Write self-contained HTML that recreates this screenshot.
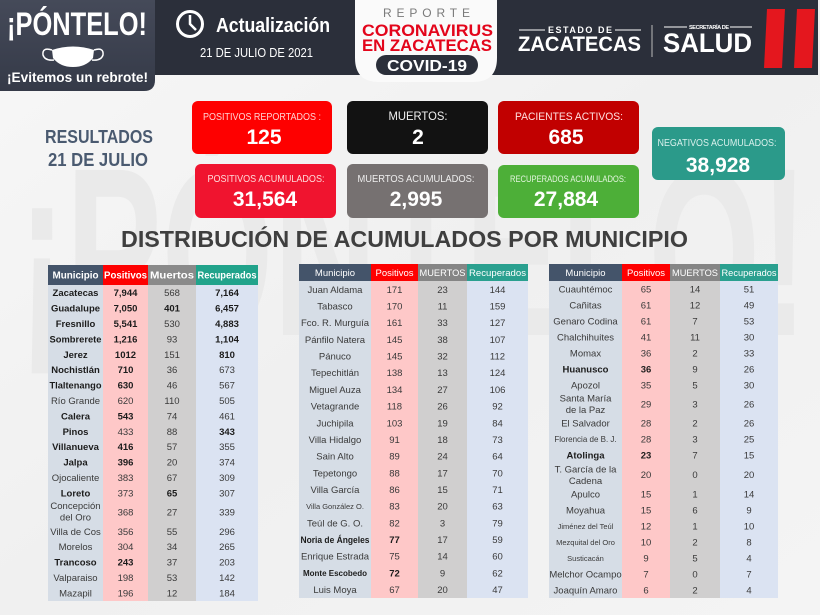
<!DOCTYPE html>
<html><head><meta charset="utf-8"><style>
html,body{margin:0;padding:0;background:#f2f2f2;}
svg{display:block;}
text{font-family:"Liberation Sans",Arial,sans-serif;}
</style></head><body>
<svg width="820" height="615" viewBox="0 0 820 615" xmlns="http://www.w3.org/2000/svg">
<defs>
<linearGradient id="bg" x1="0" y1="0" x2="1" y2="1">
<stop offset="0" stop-color="#f7f7f7"/><stop offset="0.5" stop-color="#f0f0f0"/><stop offset="1" stop-color="#f4f4f4"/>
</linearGradient>
<linearGradient id="lb" x1="0" y1="0" x2="0" y2="1">
<stop offset="0" stop-color="#454a59"/><stop offset="1" stop-color="#353a48"/>
</linearGradient>
</defs>
<rect width="820" height="615" fill="url(#bg)"/>
<!-- watermark -->
<text x="18" y="335" font-size="240" font-weight="bold" fill="#eaeaea" textLength="790" lengthAdjust="spacingAndGlyphs">¡PÓNTELO!</text>

<!-- header -->
<rect x="150" y="0" width="668" height="75" fill="#2b2f3a"/>
<path d="M0,0 H155 V80 Q155,91 144,91 H0 Z" fill="url(#lb)"/>
<text x="7" y="35" font-size="32" font-weight="bold" fill="#fff" textLength="140" lengthAdjust="spacingAndGlyphs">¡PÓNTELO!</text>
<path d="M52,50 Q73,43 94,50 L93,58 Q86,67 73,67 Q60,67 53,58 Z" fill="#fff"/>
<path d="M52,50 Q42,47 43,55 Q45,61 54,60" fill="none" stroke="#fff" stroke-width="1.5"/>
<path d="M94,50 Q104,47 103,55 Q101,61 92,60" fill="none" stroke="#fff" stroke-width="1.5"/>
<text x="7" y="82" font-size="14" font-weight="bold" fill="#fff" textLength="141" lengthAdjust="spacingAndGlyphs">¡Evitemos un rebrote!</text>

<circle cx="190" cy="24" r="12.5" fill="none" stroke="#fff" stroke-width="3"/>
<path d="M190,15 V24 L196,30" fill="none" stroke="#fff" stroke-width="2.5"/>
<text x="216" y="32" font-size="20" font-weight="bold" fill="#fff" textLength="114" lengthAdjust="spacingAndGlyphs">Actualización</text>
<text x="200" y="57" font-size="13" fill="#fff" textLength="113" lengthAdjust="spacingAndGlyphs">21 DE JULIO DE 2021</text>

<path d="M355,0 H497 V58 Q497,82 473,82 H379 Q355,82 355,58 Z" fill="#fafafa"/>
<text x="383" y="17" font-size="12" fill="#7a7a7a" textLength="87" lengthAdjust="spacing">REPORTE</text>
<text x="362" y="36" font-size="17" font-weight="bold" fill="#e3051b" textLength="131" lengthAdjust="spacingAndGlyphs">CORONAVIRUS</text>
<text x="362" y="51" font-size="17" font-weight="bold" fill="#e3051b" textLength="130" lengthAdjust="spacingAndGlyphs">EN ZACATECAS</text>
<rect x="376" y="55" width="102" height="20" rx="10" fill="#2b2f3a"/>
<text x="427" y="71" font-size="16" font-weight="bold" fill="#fff" text-anchor="middle" textLength="80" lengthAdjust="spacingAndGlyphs">COVID-19</text>

<line x1="519" y1="30" x2="545" y2="30" stroke="#fff" stroke-width="1"/>
<line x1="615" y1="30" x2="641" y2="30" stroke="#fff" stroke-width="1"/>
<text x="548" y="33" font-size="9" font-weight="bold" fill="#fff" textLength="64" lengthAdjust="spacing">ESTADO DE</text>
<text x="518" y="51" font-size="21" font-weight="bold" fill="#fff" textLength="123" lengthAdjust="spacingAndGlyphs">ZACATECAS</text>
<line x1="652" y1="25" x2="652" y2="57" stroke="#bbb" stroke-width="1"/>
<line x1="664" y1="27" x2="687" y2="27" stroke="#fff" stroke-width="1"/>
<line x1="730" y1="27" x2="752" y2="27" stroke="#fff" stroke-width="1"/>
<text x="689" y="29" font-size="5.5" font-weight="bold" fill="#fff" textLength="40" lengthAdjust="spacing">SECRETARÍA DE</text>
<text x="663" y="52" font-size="27" font-weight="bold" fill="#fff" textLength="89" lengthAdjust="spacingAndGlyphs">SALUD</text>
<polygon points="767,9 785,9 782,68 764,68" fill="#e4171e"/>
<polygon points="797,9 815,9 812,68 794,68" fill="#e4171e"/>

<!-- results -->
<text x="99" y="143" font-size="18" font-weight="bold" fill="#4a5a70" text-anchor="middle" textLength="108" lengthAdjust="spacingAndGlyphs">RESULTADOS</text>
<text x="98" y="166" font-size="18" font-weight="bold" fill="#4a5a70" text-anchor="middle" textLength="100" lengthAdjust="spacingAndGlyphs">21 DE JULIO</text>

<rect x="192" y="101" width="140" height="53" rx="6" fill="#fe0000"/>
<text x="262" y="120" font-size="10" fill="#ffd2d2" text-anchor="middle" textLength="118" lengthAdjust="spacingAndGlyphs">POSITIVOS REPORTADOS :</text>
<text x="264" y="144" font-size="21" font-weight="bold" fill="#fff" text-anchor="middle">125</text>

<rect x="347" y="101" width="141" height="53" rx="6" fill="#121212"/>
<text x="418" y="120" font-size="12" fill="#f0f0f0" text-anchor="middle" textLength="59" lengthAdjust="spacingAndGlyphs">MUERTOS:</text>
<text x="418" y="144" font-size="21" font-weight="bold" fill="#fff" text-anchor="middle">2</text>

<rect x="498" y="101" width="141" height="53" rx="6" fill="#c10000"/>
<text x="569" y="120" font-size="11" fill="#ffe0e0" text-anchor="middle" textLength="108" lengthAdjust="spacingAndGlyphs">PACIENTES ACTIVOS:</text>
<text x="566" y="144" font-size="21" font-weight="bold" fill="#fff" text-anchor="middle">685</text>

<rect x="195" y="164" width="141" height="54" rx="6" fill="#f0142f"/>
<text x="266" y="182" font-size="10" fill="#ffdada" text-anchor="middle" textLength="117" lengthAdjust="spacingAndGlyphs">POSITIVOS ACUMULADOS:</text>
<text x="265" y="206" font-size="21" font-weight="bold" fill="#fff" text-anchor="middle">31,564</text>

<rect x="347" y="164" width="141" height="54" rx="6" fill="#767171"/>
<text x="416" y="182" font-size="10" fill="#eeeeee" text-anchor="middle" textLength="117" lengthAdjust="spacingAndGlyphs">MUERTOS  ACUMULADOS:</text>
<text x="416" y="206" font-size="21" font-weight="bold" fill="#fff" text-anchor="middle">2,995</text>

<rect x="498" y="165" width="141" height="53" rx="6" fill="#4daf38"/>
<text x="568" y="182" font-size="9" fill="#e4f5df" text-anchor="middle" textLength="116" lengthAdjust="spacingAndGlyphs">RECUPERADOS ACUMULADOS:</text>
<text x="566" y="206" font-size="21" font-weight="bold" fill="#fff" text-anchor="middle">27,884</text>

<rect x="652" y="127" width="133" height="53" rx="6" fill="#2b9a8a"/>
<text x="717" y="146" font-size="10" fill="#d8f0ec" text-anchor="middle" textLength="119" lengthAdjust="spacingAndGlyphs">NEGATIVOS ACUMULADOS:</text>
<text x="718" y="172" font-size="21" font-weight="bold" fill="#fff" text-anchor="middle">38,928</text>

<text x="121" y="247" font-size="23" font-weight="bold" fill="#3f3f3f" textLength="567" lengthAdjust="spacingAndGlyphs">DISTRIBUCIÓN DE ACUMULADOS POR MUNICIPIO</text>

<!-- LEFT TABLE -->
<rect x="48" y="265" width="55" height="20" fill="#44546a"/>
<rect x="103" y="265" width="45" height="20" fill="#fe0000"/>
<rect x="148" y="265" width="48" height="20" fill="#8a8a8a"/>
<rect x="196" y="265" width="62" height="20" fill="#21a38b"/>
<rect x="48" y="285" width="55" height="316" fill="#d6dde6"/>
<rect x="103" y="285" width="45" height="316" fill="#fec8c8"/>
<rect x="148" y="285" width="48" height="316" fill="#d0cfcf"/>
<rect x="196" y="285" width="62" height="316" fill="#dbe3f2"/>
<g font-size="10" font-weight="bold" fill="#fff" text-anchor="middle">
<text x="75.5" y="278.5" textLength="46" lengthAdjust="spacingAndGlyphs">Municipio</text>
<text x="125.5" y="278.5" textLength="43" lengthAdjust="spacingAndGlyphs">Positivos</text>
<text x="172" y="278.5" textLength="44" lengthAdjust="spacingAndGlyphs">Muertos</text>
<text x="227" y="278.5" textLength="59" lengthAdjust="spacingAndGlyphs">Recuperados</text>
</g>
<g font-size="9.5" fill="#3a3a3a" text-anchor="middle">
<g font-weight="bold" fill="#1c1c1c">
<text x="75.5" y="296.2">Zacatecas</text><text x="125.5" y="296.2">7,944</text><text x="227" y="296.2">7,164</text>
<text x="75.5" y="311.6">Guadalupe</text><text x="125.5" y="311.6">7,050</text><text x="172" y="311.6">401</text><text x="227" y="311.6">6,457</text>
<text x="75.5" y="327">Fresnillo</text><text x="125.5" y="327">5,541</text><text x="227" y="327">4,883</text>
<text x="75.5" y="342.4" textLength="52" lengthAdjust="spacingAndGlyphs">Sombrerete</text><text x="125.5" y="342.4">1,216</text><text x="227" y="342.4">1,104</text>
<text x="75.5" y="357.8">Jerez</text><text x="125.5" y="357.8">1012</text><text x="227" y="357.8">810</text>
<text x="75.5" y="373.2">Nochistlán</text><text x="125.5" y="373.2">710</text>
<text x="75.5" y="388.6" textLength="52" lengthAdjust="spacingAndGlyphs">Tlaltenango</text><text x="125.5" y="388.6">630</text>
<text x="75.5" y="419.4">Calera</text><text x="125.5" y="419.4">543</text>
<text x="75.5" y="434.8">Pinos</text><text x="227" y="434.8">343</text>
<text x="75.5" y="450.2">Villanueva</text><text x="125.5" y="450.2">416</text>
<text x="75.5" y="465.6">Jalpa</text><text x="125.5" y="465.6">396</text>
<text x="75.5" y="496.4">Loreto</text><text x="172" y="496.4">65</text>
<text x="75.5" y="565.6">Trancoso</text><text x="125.5" y="565.6">243</text>
</g>
<text x="172" y="296.2">568</text>
<text x="172" y="327">530</text>
<text x="172" y="342.4">93</text>
<text x="172" y="357.8">151</text>
<text x="172" y="373.2">36</text><text x="227" y="373.2">673</text>
<text x="172" y="388.6">46</text><text x="227" y="388.6">567</text>
<text x="75.5" y="404">Río Grande</text><text x="125.5" y="404">620</text><text x="172" y="404">110</text><text x="227" y="404">505</text>
<text x="172" y="419.4">74</text><text x="227" y="419.4">461</text>
<text x="125.5" y="434.8">433</text><text x="172" y="434.8">88</text>
<text x="172" y="450.2">57</text><text x="227" y="450.2">355</text>
<text x="172" y="465.6">20</text><text x="227" y="465.6">374</text>
<text x="75.5" y="481">Ojocaliente</text><text x="125.5" y="481">383</text><text x="172" y="481">67</text><text x="227" y="481">309</text>
<text x="125.5" y="496.4">373</text><text x="227" y="496.4">307</text>
<text x="75.5" y="509">Concepción</text><text x="75.5" y="520.5">del Oro</text>
<text x="125.5" y="515.6">368</text><text x="172" y="515.6">27</text><text x="227" y="515.6">339</text>
<text x="75.5" y="534.8">Villa de Cos</text><text x="125.5" y="534.8">356</text><text x="172" y="534.8">55</text><text x="227" y="534.8">296</text>
<text x="75.5" y="550.2">Morelos</text><text x="125.5" y="550.2">304</text><text x="172" y="550.2">34</text><text x="227" y="550.2">265</text>
<text x="172" y="565.6">37</text><text x="227" y="565.6">203</text>
<text x="75.5" y="581">Valparaiso</text><text x="125.5" y="581">198</text><text x="172" y="581">53</text><text x="227" y="581">142</text>
<text x="75.5" y="596.4">Mazapil</text><text x="125.5" y="596.4">196</text><text x="172" y="596.4">12</text><text x="227" y="596.4">184</text>
</g>

<!-- MIDDLE TABLE -->
<rect x="299" y="264" width="72" height="17" fill="#44546a"/>
<rect x="371" y="264" width="47" height="17" fill="#fe0000"/>
<rect x="418" y="264" width="49" height="17" fill="#858585"/>
<rect x="467" y="264" width="61" height="17" fill="#2aa08f"/>
<rect x="299" y="281" width="72" height="317" fill="#d6dde6"/>
<rect x="371" y="281" width="47" height="317" fill="#fec8c8"/>
<rect x="418" y="281" width="49" height="317" fill="#d0cfcf"/>
<rect x="467" y="281" width="61" height="317" fill="#dbe3f2"/>
<g font-size="9.5" fill="#fff" text-anchor="middle">
<text x="335" y="276">Municipio</text>
<text x="394.5" y="276">Positivos</text>
<text x="442.5" y="276" textLength="46" lengthAdjust="spacingAndGlyphs">MUERTOS</text>
<text x="497.5" y="276" textLength="57" lengthAdjust="spacingAndGlyphs">Recuperados</text>
</g>
<g font-size="9.5" fill="#3a3a3a" text-anchor="middle">
<text x="335" y="292.8">Juan Aldama</text><text x="394.5" y="292.8">171</text><text x="442.5" y="292.8">23</text><text x="497.5" y="292.8">144</text>
<text x="335" y="309.5">Tabasco</text><text x="394.5" y="309.5">170</text><text x="442.5" y="309.5">11</text><text x="497.5" y="309.5">159</text>
<text x="335" y="326.2">Fco. R. Murguía</text><text x="394.5" y="326.2">161</text><text x="442.5" y="326.2">33</text><text x="497.5" y="326.2">127</text>
<text x="335" y="342.9">Pánfilo Natera</text><text x="394.5" y="342.9">145</text><text x="442.5" y="342.9">38</text><text x="497.5" y="342.9">107</text>
<text x="335" y="359.6">Pánuco</text><text x="394.5" y="359.6">145</text><text x="442.5" y="359.6">32</text><text x="497.5" y="359.6">112</text>
<text x="335" y="376.2">Tepechitlán</text><text x="394.5" y="376.2">138</text><text x="442.5" y="376.2">13</text><text x="497.5" y="376.2">124</text>
<text x="335" y="392.9">Miguel Auza</text><text x="394.5" y="392.9">134</text><text x="442.5" y="392.9">27</text><text x="497.5" y="392.9">106</text>
<text x="335" y="409.6">Vetagrande</text><text x="394.5" y="409.6">118</text><text x="442.5" y="409.6">26</text><text x="497.5" y="409.6">92</text>
<text x="335" y="426.3">Juchipila</text><text x="394.5" y="426.3">103</text><text x="442.5" y="426.3">19</text><text x="497.5" y="426.3">84</text>
<text x="335" y="443">Villa Hidalgo</text><text x="394.5" y="443">91</text><text x="442.5" y="443">18</text><text x="497.5" y="443">73</text>
<text x="335" y="459.6">Sain Alto</text><text x="394.5" y="459.6">89</text><text x="442.5" y="459.6">24</text><text x="497.5" y="459.6">64</text>
<text x="335" y="476.3">Tepetongo</text><text x="394.5" y="476.3">88</text><text x="442.5" y="476.3">17</text><text x="497.5" y="476.3">70</text>
<text x="335" y="493">Villa García</text><text x="394.5" y="493">86</text><text x="442.5" y="493">15</text><text x="497.5" y="493">71</text>
<text x="335" y="509.2" font-size="7.5">Villa González  O.</text><text x="394.5" y="509.7">83</text><text x="442.5" y="509.7">20</text><text x="497.5" y="509.7">63</text>
<text x="335" y="526.4">Teúl de G. O.</text><text x="394.5" y="526.4">82</text><text x="442.5" y="526.4">3</text><text x="497.5" y="526.4">79</text>
<text x="335" y="543.1" font-weight="bold" fill="#1c1c1c" font-size="9" textLength="69" lengthAdjust="spacingAndGlyphs">Noria de Ángeles</text><text x="394.5" y="543.1" font-weight="bold" fill="#1c1c1c">77</text><text x="442.5" y="543.1">17</text><text x="497.5" y="543.1">59</text>
<text x="335" y="559.7">Enrique Estrada</text><text x="394.5" y="559.7">75</text><text x="442.5" y="559.7">14</text><text x="497.5" y="559.7">60</text>
<text x="335" y="576" font-weight="bold" fill="#1c1c1c" font-size="8">Monte Escobedo</text><text x="394.5" y="576.4" font-weight="bold" fill="#1c1c1c">72</text><text x="442.5" y="576.4">9</text><text x="497.5" y="576.4">62</text>
<text x="335" y="593.1">Luis Moya</text><text x="394.5" y="593.1">67</text><text x="442.5" y="593.1">20</text><text x="497.5" y="593.1">47</text>
</g>

<!-- RIGHT TABLE -->
<rect x="549" y="264" width="73" height="17" fill="#44546a"/>
<rect x="622" y="264" width="48" height="17" fill="#fe0000"/>
<rect x="670" y="264" width="50" height="17" fill="#858585"/>
<rect x="720" y="264" width="58" height="17" fill="#2aa08f"/>
<rect x="549" y="281" width="73" height="317" fill="#d6dde6"/>
<rect x="622" y="281" width="48" height="317" fill="#fec8c8"/>
<rect x="670" y="281" width="50" height="317" fill="#d0cfcf"/>
<rect x="720" y="281" width="58" height="317" fill="#dbe3f2"/>
<g font-size="9.5" fill="#fff" text-anchor="middle">
<text x="585.5" y="276">Municipio</text>
<text x="646" y="276">Positivos</text>
<text x="695" y="276" textLength="46" lengthAdjust="spacingAndGlyphs">MUERTOS</text>
<text x="749" y="276" textLength="55" lengthAdjust="spacingAndGlyphs">Recuperados</text>
</g>
<g font-size="9.5" fill="#3a3a3a" text-anchor="middle">
<text x="585.5" y="292.5">Cuauhtémoc</text><text x="646" y="292.5">65</text><text x="695" y="292.5">14</text><text x="749" y="292.5">51</text>
<text x="585.5" y="308.5">Cañitas</text><text x="646" y="308.5">61</text><text x="695" y="308.5">12</text><text x="749" y="308.5">49</text>
<text x="585.5" y="324.5">Genaro Codina</text><text x="646" y="324.5">61</text><text x="695" y="324.5">7</text><text x="749" y="324.5">53</text>
<text x="585.5" y="340.5">Chalchihuites</text><text x="646" y="340.5">41</text><text x="695" y="340.5">11</text><text x="749" y="340.5">30</text>
<text x="585.5" y="356.5">Momax</text><text x="646" y="356.5">36</text><text x="695" y="356.5">2</text><text x="749" y="356.5">33</text>
<text x="585.5" y="372.5" font-weight="bold" fill="#1c1c1c">Huanusco</text><text x="646" y="372.5" font-weight="bold" fill="#1c1c1c">36</text><text x="695" y="372.5">9</text><text x="749" y="372.5">26</text>
<text x="585.5" y="388.5">Apozol</text><text x="646" y="388.5">35</text><text x="695" y="388.5">5</text><text x="749" y="388.5">30</text>
<text x="585.5" y="401.5">Santa María</text><text x="585.5" y="413">de la Paz</text><text x="646" y="407.5">29</text><text x="695" y="407.5">3</text><text x="749" y="407.5">26</text>
<text x="585.5" y="426.5">El Salvador</text><text x="646" y="426.5">28</text><text x="695" y="426.5">2</text><text x="749" y="426.5">26</text>
<text x="585.5" y="442" font-size="8">Florencia de B. J.</text><text x="646" y="442.5">28</text><text x="695" y="442.5">3</text><text x="749" y="442.5">25</text>
<text x="585.5" y="458.5" font-weight="bold" fill="#1c1c1c">Atolinga</text><text x="646" y="458.5" font-weight="bold" fill="#1c1c1c">23</text><text x="695" y="458.5">7</text><text x="749" y="458.5">15</text>
<text x="585.5" y="472.5">T. García de la</text><text x="585.5" y="484">Cadena</text><text x="646" y="478">20</text><text x="695" y="478">0</text><text x="749" y="478">20</text>
<text x="585.5" y="497.5">Apulco</text><text x="646" y="497.5">15</text><text x="695" y="497.5">1</text><text x="749" y="497.5">14</text>
<text x="585.5" y="513.5">Moyahua</text><text x="646" y="513.5">15</text><text x="695" y="513.5">6</text><text x="749" y="513.5">9</text>
<text x="585.5" y="529" font-size="7.5">Jiménez del Teúl</text><text x="646" y="529.5">12</text><text x="695" y="529.5">1</text><text x="749" y="529.5">10</text>
<text x="585.5" y="545" font-size="7.5">Mezquital del Oro</text><text x="646" y="545.5">10</text><text x="695" y="545.5">2</text><text x="749" y="545.5">8</text>
<text x="585.5" y="561" font-size="7.5">Susticacán</text><text x="646" y="561.5">9</text><text x="695" y="561.5">5</text><text x="749" y="561.5">4</text>
<text x="585.5" y="577.5">Melchor Ocampo</text><text x="646" y="577.5">7</text><text x="695" y="577.5">0</text><text x="749" y="577.5">7</text>
<text x="585.5" y="593.5">Joaquín Amaro</text><text x="646" y="593.5">6</text><text x="695" y="593.5">2</text><text x="749" y="593.5">4</text>
</g>
</svg>
</body></html>
